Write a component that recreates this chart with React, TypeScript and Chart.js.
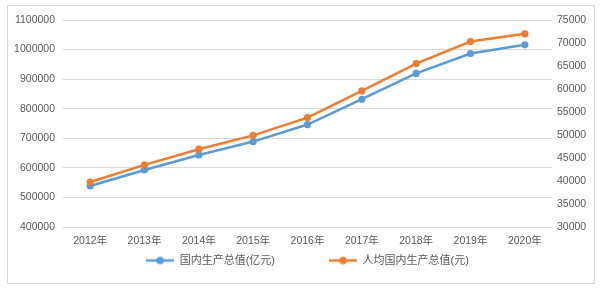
import React, { useEffect, useRef } from "react";
import { Chart, registerables } from "chart.js";

Chart.register(...registerables);

const years = ["2012年", "2013年", "2014年", "2015年", "2016年", "2017年", "2018年", "2019年", "2020年"];
const gdp = [538580, 592963, 643563, 688858, 746395, 832036, 919281, 986515, 1015986];
const gdpPerCapita = [39771, 43497, 46912, 49922, 53783, 59592, 65534, 70328, 72000];
const seriesNames = ["国内生产总值(亿元)", "人均国内生产总值(元)"];
const leftRange = [400000, 1100000];
const leftStep = 100000;
const rightRange = [30000, 75000];
const rightStep = 5000;

const BLUE = "#5B9BD5";
const ORANGE = "#ED7D31";
const TEXT = "#595959";
const FONT = "'Liberation Sans', 'Noto Sans CJK SC', sans-serif";

function legendImage(color: string) {
  const c = document.createElement("canvas");
  c.width = 28;
  c.height = 10;
  const ctx = c.getContext("2d")!;
  ctx.strokeStyle = color;
  ctx.lineWidth = 2.5;
  ctx.beginPath();
  ctx.moveTo(0, 5);
  ctx.lineTo(28, 5);
  ctx.stroke();
  ctx.fillStyle = color;
  ctx.beginPath();
  ctx.arc(14, 5, 3.8, 0, Math.PI * 2);
  ctx.fill();
  return c;
}

const plain = (v: any) => String(v);

export default function App() {
  const ref = useRef<HTMLCanvasElement>(null);

  useEffect(() => {
    document.body.style.margin = "0";
    const imgs = [legendImage(BLUE), legendImage(ORANGE)];
    const chart = new Chart(ref.current!, {
      type: "line",
      data: {
        labels: years,
        datasets: [
          {
            label: seriesNames[0],
            data: gdp,
            yAxisID: "y",
            borderColor: BLUE,
            backgroundColor: BLUE,
            borderWidth: 2.5,
            pointRadius: 3.6,
            pointHoverRadius: 3.6,
            pointBorderWidth: 0,
            tension: 0,
            order: 1,
          },
          {
            label: seriesNames[1],
            data: gdpPerCapita,
            yAxisID: "y1",
            borderColor: ORANGE,
            backgroundColor: ORANGE,
            borderWidth: 2.5,
            pointRadius: 3.6,
            pointHoverRadius: 3.6,
            pointBorderWidth: 0,
            tension: 0,
            order: 0,
          },
        ],
      },
      options: {
        responsive: false,
        animation: false,
        layout: { padding: { top: 20, left: 0, right: 0, bottom: 12 } },
        scales: {
          x: {
            offset: true,
            grid: { display: false, drawTicks: false },
            border: { display: false },
            ticks: { color: TEXT, font: { family: FONT, size: 10.5 }, padding: 8, maxRotation: 0 },
            afterFit: (s: any) => {
              s.height = 18;
            },
          },
          y: {
            position: "left",
            min: leftRange[0],
            max: leftRange[1],
            grid: { color: "#d9d9d9", lineWidth: 1, drawTicks: false },
            border: { display: false },
            ticks: { stepSize: leftStep, callback: plain, color: TEXT, font: { family: FONT, size: 10.5 }, padding: 8 },
            afterFit: (s: any) => {
              s.width = 63;
            },
          },
          y1: {
            position: "right",
            min: rightRange[0],
            max: rightRange[1],
            grid: { display: false, drawTicks: false },
            border: { display: false },
            ticks: { stepSize: rightStep, callback: plain, color: TEXT, font: { family: FONT, size: 10.5 }, padding: 5 },
            afterFit: (s: any) => {
              s.width = 48;
            },
          },
        },
        plugins: {
          tooltip: { enabled: false },
          legend: {
            position: "bottom",
            fullSize: false,
            labels: {
              usePointStyle: true,
              pointStyleWidth: 28,
              padding: 10,
              color: TEXT,
              font: { family: FONT, size: 11 },
              generateLabels: (c: any) =>
                c.data.datasets.map((d: any, i: number) => ({
                  text: i === 0 ? d.label + "\u2003\u2003\u2003\u2003" : d.label,
                  fillStyle: d.borderColor,
                  strokeStyle: d.borderColor,
                  pointStyle: imgs[i],
                  lineWidth: 0,
                  hidden: false,
                  datasetIndex: i,
                  fontColor: TEXT,
                })),
            },
          },
        },
      },
    } as any);
    return () => chart.destroy();
  }, []);

  return (
    <div style={{ position: "relative", width: 600, height: 288, background: "#fff" }}>
      <canvas ref={ref} width={600} height={288} style={{ position: "absolute", left: 0, top: 0 }} />
      <div
        style={{
          position: "absolute",
          left: 7,
          top: 5,
          width: 586,
          height: 277,
          border: "1px solid #d9d9d9",
          pointerEvents: "none",
        }}
      />
    </div>
  );
}
